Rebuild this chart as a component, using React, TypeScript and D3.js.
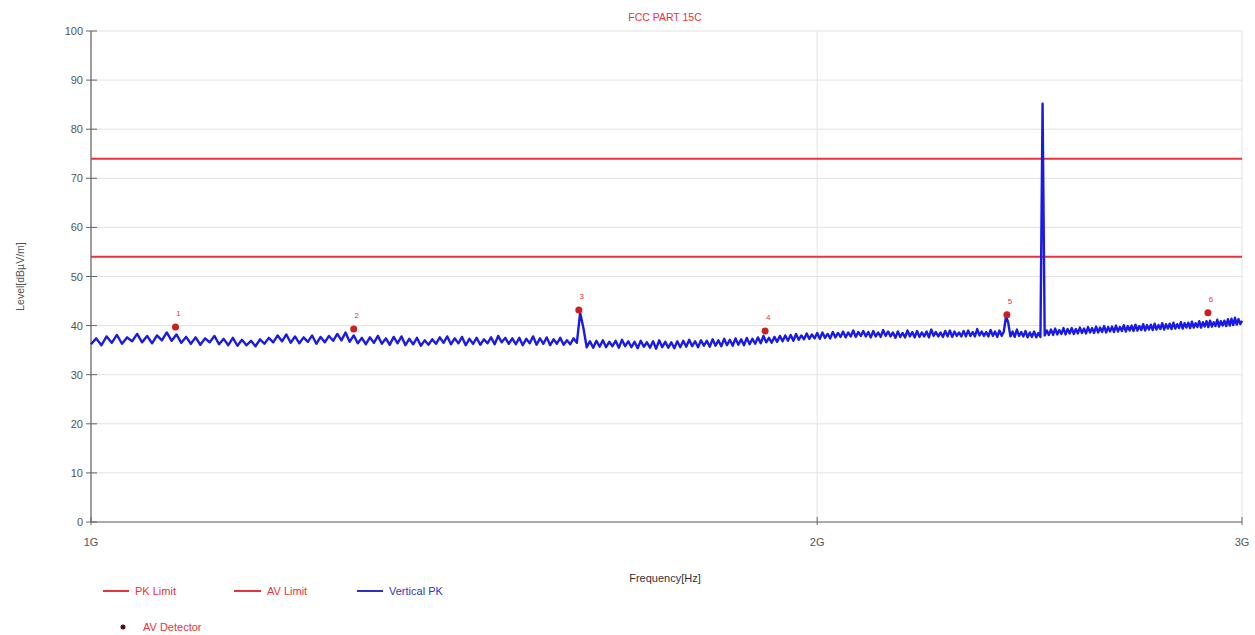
import React from "react";
import * as d3 from "d3";

const title = "FCC PART 15C";
const yTicks = [0, 10, 20, 30, 40, 50, 60, 70, 80, 90, 100];
const xTicks = [1e9, 2e9, 3e9];
const xTickLabels = ["1G", "2G", "3G"];
const pkLimit = 74;
const avLimit = 54;
const sweepStart = 1e9;
const sweepStep = 5e6;
// Vertical PK trace levels (dBuV/m), one per 5 MHz sweep step from 1 GHz to 3 GHz
const traceLevels = [
  36.2,37.4,36.0,37.8,36.5,38.1,36.3,37.6,36.8,38.3,
  36.6,37.9,36.4,38.0,37.0,38.6,36.9,38.2,36.5,37.7,
  36.3,37.6,36.1,37.4,36.6,37.9,36.2,37.3,36.0,37.5,
  35.9,37.1,36.0,36.9,35.8,37.2,36.3,37.5,36.6,38.0,
  36.8,38.2,36.5,37.8,36.4,37.6,36.7,38.0,36.3,37.7,
  36.6,37.9,36.9,38.3,37.0,38.6,36.7,38.0,36.4,37.5,
  36.2,37.6,36.5,37.9,36.3,37.4,36.1,37.7,36.4,37.8,
  36.0,37.3,36.2,37.5,35.9,37.0,36.1,37.2,36.3,37.6,
  36.5,37.8,36.2,37.4,36.4,37.7,36.0,37.3,36.3,37.5,
  36.1,37.2,36.4,37.6,36.2,37.9,36.6,37.5,36.3,37.4,
  36.2,37.5,36.0,37.3,36.4,37.8,36.1,37.4,36.3,37.6,
  36.0,37.2,36.3,37.5,36.1,37.0,36.2,37.4,36.5,42.6,
  39.5,35.6,36.8,35.5,36.9,35.7,37.0,35.6,36.7,35.8,
  36.9,35.5,37.1,35.8,36.8,35.6,36.7,35.4,36.9,35.7,
  36.6,35.5,36.8,35.3,37.0,35.6,36.7,35.5,36.6,35.4,
  36.8,35.6,36.9,35.7,37.1,35.8,36.8,35.6,37.0,35.9,
  36.9,35.7,37.2,35.9,37.0,35.8,37.3,36.0,37.1,35.9,
  37.4,36.1,37.2,36.0,37.5,36.2,37.3,36.3,37.6,36.4,
  37.9,36.6,37.5,36.5,37.7,36.7,37.9,36.8,38.0,36.9,
  38.1,36.9,38.3,37.1,38.0,37.2,38.4,37.3,38.2,37.4,
  38.5,37.3,38.6,37.5,38.3,37.4,38.7,37.6,38.5,37.7,
  38.8,37.6,38.6,37.8,39.0,37.7,38.7,37.9,38.9,37.8,
  38.7,37.6,38.9,37.8,38.6,37.7,39.1,37.9,38.8,37.8,
  38.6,37.5,38.8,37.7,38.5,37.6,39.0,37.8,38.7,37.6,
  38.9,37.7,38.6,37.8,38.8,37.6,39.2,37.9,38.7,37.8,
  38.6,37.7,38.9,37.8,39.0,37.7,38.8,37.9,38.6,37.8,
  38.9,37.8,39.0,37.9,38.7,37.8,39.3,38.0,38.8,37.9,
  38.7,37.8,39.1,37.9,38.8,37.7,39.0,37.9,38.8,41.9,
  40.6,37.8,38.8,37.7,39.2,37.9,38.7,37.8,38.9,37.6,
  38.6,37.7,38.8,37.6,38.5,37.7,85.2,38.0,39.0,38.1,
  39.2,38.1,39.4,38.2,39.1,38.3,39.5,38.2,39.3,38.4,
  39.5,38.3,39.3,38.4,39.6,38.5,39.4,38.4,39.7,38.6,
  39.5,38.5,39.8,38.6,39.6,38.7,39.9,38.6,39.7,38.8,
  39.8,38.7,40.0,38.8,39.7,38.9,40.1,38.8,39.9,39.0,
  40.0,38.9,40.2,39.0,39.9,39.1,40.3,39.0,40.1,39.2,
  40.2,39.1,40.4,39.2,40.1,39.3,40.5,39.2,40.3,39.4,
  40.4,39.3,40.6,39.4,40.3,39.5,40.7,39.4,40.5,39.6,
  40.6,39.5,40.8,39.6,40.5,39.7,40.9,39.6,40.7,39.8,
  40.9,39.7,41.0,39.8,40.7,39.9,41.2,39.8,40.9,40.0,
  41.0,39.9,41.3,40.0,41.4,40.1,41.6,40.2,41.3,40.3,
  41.0,
];
const markerIds = [1, 2, 3, 4, 5, 6];
const markerFreqs = [1.084e9, 1.285e9, 1.593e9, 1.903e9, 2.397e9, 2.904e9];
const markerLevels = [39.7, 39.3, 43.2, 38.9, 42.2, 42.6];

const W = 1255;
const H = 635;
const M = { left: 91, right: 1242, top: 31, bottom: 522 };
const font = "'Liberation Sans', Arial, sans-serif";
const red = "#e8333a";
const blue = "#1a1ae6";
const gray = "#555";

export default function App() {
  const x = d3.scaleLog().domain([1e9, 3e9]).range([M.left, M.right]);
  const y = d3.scaleLinear().domain([0, 100]).range([M.bottom, M.top]);
  const trace = traceLevels.map((v, i) => [sweepStart + i * sweepStep, v] as [number, number]);
  const line = d3
    .line<[number, number]>()
    .x((d) => x(d[0]))
    .y((d) => y(d[1]));

  return (
    <svg
      width={W}
      height={H}
      style={{ position: "absolute", left: 0, top: 0, background: "#fff" }}
      fontFamily={font}
    >
      <text x={665} y={21} textAnchor="middle" fontSize={10.5} fill={red}>
        {title}
      </text>
      {/* grid */}
      {yTicks.map((t) => (
        <line key={"gy" + t} x1={M.left} x2={M.right} y1={y(t)} y2={y(t)} stroke="#e2e2e2" strokeWidth={1} />
      ))}
      {xTicks.map((t) => (
        <line key={"gx" + t} x1={x(t)} x2={x(t)} y1={M.top} y2={M.bottom} stroke="#e2e2e2" strokeWidth={1} />
      ))}
      {/* axes */}
      <line x1={M.left} x2={M.left} y1={M.top} y2={M.bottom} stroke="#666" strokeWidth={1.2} />
      <line x1={M.left} x2={M.right} y1={M.bottom} y2={M.bottom} stroke="#666" strokeWidth={1.2} />
      {yTicks.map((t) => (
        <g key={"ty" + t}>
          <line x1={M.left - 5} x2={M.left + 6} y1={y(t)} y2={y(t)} stroke="#666" strokeWidth={1} />
          <text x={M.left - 8} y={y(t) + 4} textAnchor="end" fontSize={11} fill={gray}>
            {t}
          </text>
        </g>
      ))}
      {xTicks.map((t, i) => (
        <g key={"tx" + t}>
          <line x1={x(t)} x2={x(t)} y1={M.bottom - 5} y2={M.bottom + 3} stroke="#666" strokeWidth={1} />
          <text x={x(t)} y={M.bottom + 24} textAnchor="middle" fontSize={11} fill={gray}>
            {xTickLabels[i]}
          </text>
        </g>
      ))}
      <text x={665} y={582} textAnchor="middle" fontSize={11} fill="#333">
        Frequency[Hz]
      </text>
      <text
        transform={`translate(24,${(M.top + M.bottom) / 2}) rotate(-90)`}
        textAnchor="middle"
        fontSize={10.5}
        fill={gray}
      >
        Level[dBµV/m]
      </text>
      {/* limits */}
      <line x1={M.left} x2={M.right} y1={y(pkLimit)} y2={y(pkLimit)} stroke={red} strokeWidth={2} />
      <line x1={M.left} x2={M.right} y1={y(avLimit)} y2={y(avLimit)} stroke={red} strokeWidth={2} />
      {/* trace */}
      <path d={line(trace) || ""} fill="none" stroke={blue} strokeWidth={2.4} strokeLinejoin="round" />
      {/* markers */}
      {markerIds.map((id, i) => (
        <g key={"m" + id}>
          <circle cx={x(markerFreqs[i])} cy={y(markerLevels[i])} r={3.5} fill="#cc1f1f" />
          <text x={x(markerFreqs[i]) + 3} y={y(markerLevels[i]) - 11} textAnchor="middle" fontSize={8} fill={red}>
            {id}
          </text>
        </g>
      ))}
      {/* legend */}
      <line x1={103} x2={129} y1={591} y2={591} stroke={red} strokeWidth={2} />
      <text x={135} y={595} fontSize={11} fill={red}>PK Limit</text>
      <line x1={234} x2={261} y1={591} y2={591} stroke={red} strokeWidth={2} />
      <text x={267} y={595} fontSize={11} fill={red}>AV Limit</text>
      <line x1={357} x2={383} y1={591} y2={591} stroke="#3030c0" strokeWidth={2} />
      <text x={389} y={595} fontSize={11} fill="#3535c0">Vertical PK</text>
      <circle cx={123} cy={627} r={2.5} fill="#501010" />
      <text x={143} y={631} fontSize={11} fill={red}>AV Detector</text>
    </svg>
  );
}
